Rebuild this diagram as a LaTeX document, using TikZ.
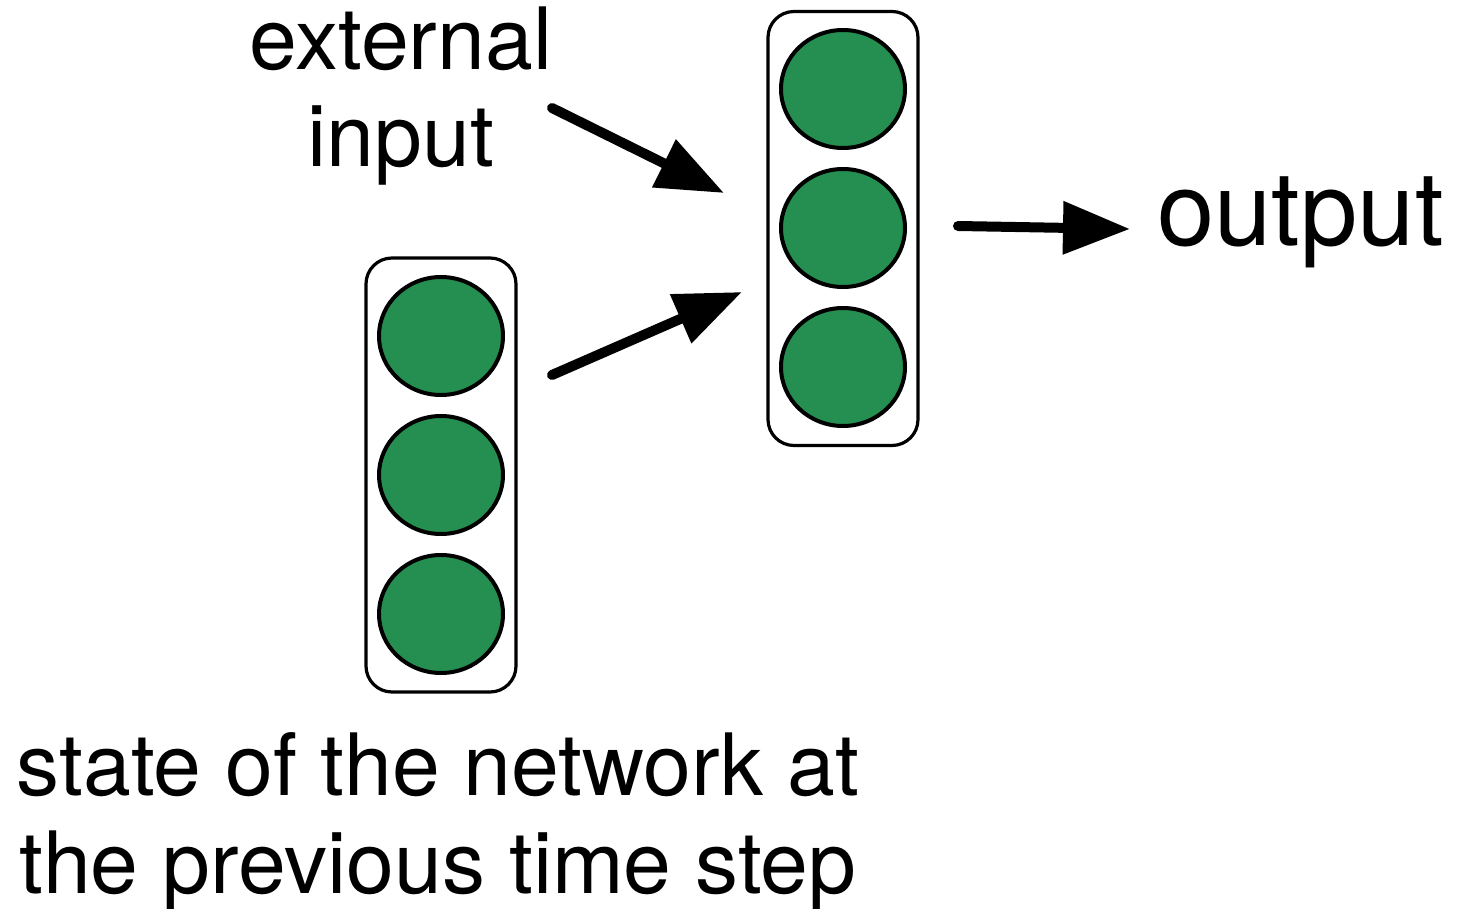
\documentclass[tikz,border=0pt]{standalone}
\usepackage{fontspec}
\setmainfont{TeX Gyre Heros}
\usetikzlibrary{arrows.meta,shapes.geometric}
\definecolor{unitgreen}{RGB}{37,143,81}
\begin{document}
\begin{tikzpicture}[x=0.5pt,y=-0.5pt,
  unit/.style={ellipse,draw=black,line width=2pt,fill=unitgreen,minimum width=62pt,minimum height=59pt,inner sep=0pt},
  layerbox/.style={rectangle,rounded corners=13pt,draw=black,line width=1.6pt,minimum width=75pt,minimum height=217pt,inner sep=0pt},
  bigarrow/.style={line width=5pt,line cap=round,-{Triangle[length=33.5pt,width=25.5pt]}},
  lbl/.style={inner sep=0pt,font=\fontsize{43pt}{48.5pt}\selectfont,align=center},
]
\useasboundingbox (0,0) rectangle (1463,909);
% layer boxes
\node[layerbox] (hid) at (843,228.5) {};
\node[layerbox] (prev) at (441,475) {};
% units
\node[unit] (h1) at (843,89) {};
\node[unit] (h2) at (843,228) {};
\node[unit] (h3) at (843,367) {};
\node[unit] (p1) at (441,336) {};
\node[unit] (p2) at (441,475) {};
\node[unit] (p3) at (441,614) {};
% labels (base anchor = baseline of the last line)
\node[lbl,anchor=base] (ext) at (401,167) {external\\input};
\node[lbl,anchor=base,font=\fontsize{43pt}{49pt}\selectfont] (state) at (438,893) {state of the network at\\the previous time step};
\node[inner sep=0pt,anchor=base west,font=\fontsize{51.5pt}{60pt}\selectfont] (out) at (1157,246) {output};
% arrow end points
\coordinate (a1s) at (552,108);
\coordinate (a1e) at (724,193);
\coordinate (a2s) at (552,375);
\coordinate (a2e) at (742,292);
\coordinate (a3s) at (958,226);
\coordinate (a3e) at (1130,229);
\draw[bigarrow] (a1s) -- (a1e);
\draw[bigarrow] (a2s) -- (a2e);
\draw[bigarrow] (a3s) -- (a3e);
\end{tikzpicture}
\end{document}
